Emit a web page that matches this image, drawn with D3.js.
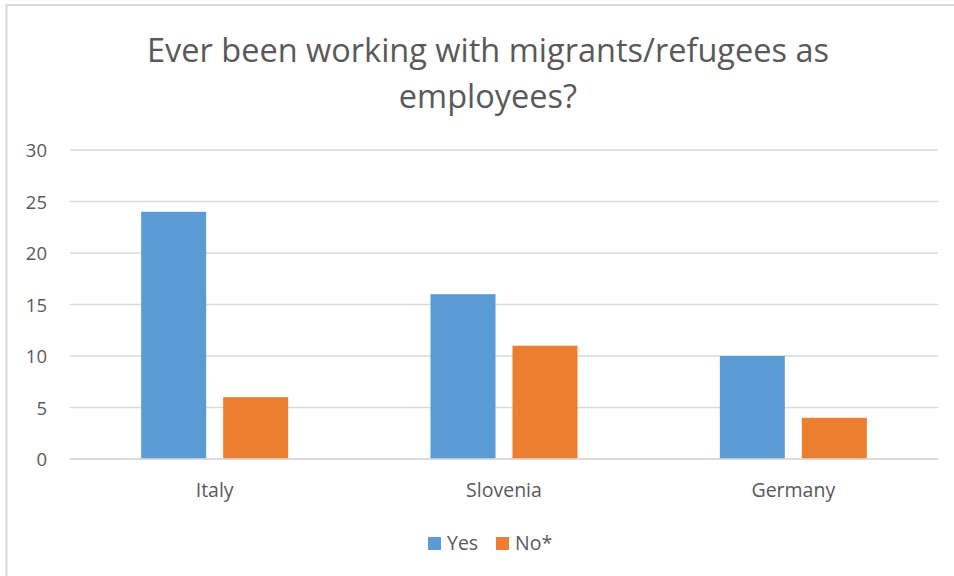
<!DOCTYPE html>
<html>
<head>
<meta charset="utf-8">
<script src="https://cdn.jsdelivr.net/npm/d3@7"></script>
<style>
  html, body { margin: 0; padding: 0; background: #fff; }
  svg { display: block; font-family: "Open Sans", "Liberation Sans", sans-serif; }
</style>
</head>
<body>
<svg id="chart" width="954" height="576"></svg>
<script>
// Survey answers per country
const categories = ["Italy", "Slovenia", "Germany"];
const seriesNames = ["Yes", "No*"];
const yesValues = [24, 16, 10];
const noValues = [6, 11, 4];
const yTicks = [0, 5, 10, 15, 20, 25, 30];
const colors = ["#5b9bd5", "#ed7d31"];

const svg = d3.select("#chart");
const W = 954, H = 576;
const textColor = "#595959";

// chart frame
svg.append("rect")
  .attr("x", 6.5).attr("y", 5)
  .attr("width", W + 10).attr("height", H + 10)
  .attr("fill", "#fff").attr("stroke", "#d9d9d9").attr("stroke-width", 2);

// title
const title = svg.append("text")
  .attr("text-anchor", "middle")
  .attr("fill", textColor)
  .attr("font-size", 32.5);
title.append("tspan").attr("x", 488).attr("y", 62).text("Ever been working with migrants/refugees as");
title.append("tspan").attr("x", 488).attr("y", 108).text("employees?");

const plot = { left: 70, right: 938, top: 150, bottom: 459 };

const x0 = d3.scaleBand().domain(categories).range([plot.left, plot.right]);
const y = d3.scaleLinear().domain([0, 30]).range([plot.bottom, plot.top]);

// gridlines
svg.append("g")
  .selectAll("line")
  .data(yTicks)
  .join("line")
  .attr("x1", plot.left).attr("x2", plot.right)
  .attr("y1", d => y(d)).attr("y2", d => y(d))
  .attr("stroke", "#d9d9d9").attr("stroke-width", 1.3);

// y tick labels
svg.append("g")
  .selectAll("text")
  .data(yTicks)
  .join("text")
  .attr("x", 47).attr("y", d => y(d) + 7)
  .attr("text-anchor", "end")
  .attr("fill", textColor)
  .attr("font-size", 18.5)
  .text(d => d);

// bars: two per country, grouped around the band centre
const series = [yesValues, noValues];
const barW = 65, gap = 17;
const groupW = barW * 2 + gap;
const x1 = d3.scaleBand().domain(seriesNames).range([0, groupW]).paddingInner(gap / (barW + gap));

categories.forEach((c, i) => {
  const gx = x0(c) + x0.bandwidth() / 2 - groupW / 2;
  series.forEach((vals, s) => {
    svg.append("rect")
      .attr("x", gx + x1(seriesNames[s]))
      .attr("y", y(vals[i]))
      .attr("width", x1.bandwidth())
      .attr("height", y(0) - y(vals[i]))
      .attr("fill", colors[s]);
  });
});

// baseline
svg.append("line")
  .attr("x1", plot.left).attr("x2", plot.right)
  .attr("y1", y(0)).attr("y2", y(0))
  .attr("stroke", "#d9d9d9").attr("stroke-width", 1.3);

// category labels
svg.append("g")
  .selectAll("text")
  .data(categories)
  .join("text")
  .attr("x", d => x0(d) + x0.bandwidth() / 2)
  .attr("y", 497)
  .attr("text-anchor", "middle")
  .attr("fill", textColor)
  .attr("font-size", 19.5)
  .text(d => d);

// legend
const legendX = [428, 496];
const legend = svg.append("g");
seriesNames.forEach((n, i) => {
  legend.append("rect")
    .attr("x", legendX[i]).attr("y", 537)
    .attr("width", 13).attr("height", 13)
    .attr("fill", colors[i]);
  legend.append("text")
    .attr("x", legendX[i] + 19).attr("y", 550)
    .attr("fill", textColor)
    .attr("font-size", 19.5)
    .text(n);
});
</script>
</body>
</html>
